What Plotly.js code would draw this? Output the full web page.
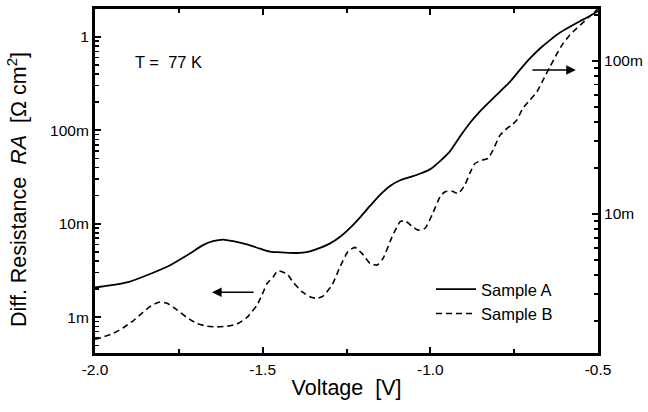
<!DOCTYPE html>
<html>
<head>
<meta charset="utf-8">
<script src="https://cdn.plot.ly/plotly-3.0.1.min.js"></script>
<style>html,body{margin:0;padding:0;background:#fff;}#chart{width:648px;height:412px;}</style>
</head>
<body>
<div id="chart"></div>
<script>
// Sample A (solid, left axis)
const voltageA = [-2.0, -1.955, -1.896, -1.836, -1.776, -1.717, -1.678, -1.648, -1.618, -1.588, -1.547, -1.508, -1.478, -1.448, -1.418, -1.389, -1.359, -1.329, -1.299, -1.269, -1.240, -1.210, -1.180, -1.150, -1.120, -1.090, -1.061, -1.031, -1.001, -0.971, -0.941, -0.911, -0.882, -0.852, -0.822, -0.792, -0.762, -0.733, -0.703, -0.673, -0.643, -0.613, -0.584, -0.554, -0.524, -0.5];
const resA = [0.00208, 0.00219, 0.00241, 0.00290, 0.00360, 0.00480, 0.00590, 0.00650, 0.00676, 0.00650, 0.00600, 0.00542, 0.00503, 0.00495, 0.00488, 0.00488, 0.00507, 0.00551, 0.00617, 0.00727, 0.00900, 0.01166, 0.0155, 0.0204, 0.0254, 0.0292, 0.0316, 0.0343, 0.0382, 0.0468, 0.0598, 0.0863, 0.1197, 0.159, 0.204, 0.260, 0.332, 0.443, 0.588, 0.751, 0.923, 1.11, 1.28, 1.47, 1.67, 1.89];
// Sample B (dashed, right axis)
const voltageB = [-2.0, -1.976, -1.946, -1.917, -1.887, -1.857, -1.827, -1.806, -1.785, -1.755, -1.726, -1.696, -1.666, -1.636, -1.606, -1.577, -1.547, -1.517, -1.502, -1.487, -1.469, -1.455, -1.427, -1.410, -1.383, -1.359, -1.338, -1.320, -1.293, -1.269, -1.246, -1.225, -1.204, -1.180, -1.159, -1.141, -1.114, -1.090, -1.076, -1.055, -1.037, -1.016, -0.995, -0.971, -0.956, -0.935, -0.917, -0.897, -0.882, -0.867, -0.846, -0.828, -0.813, -0.792, -0.771, -0.757, -0.742, -0.724, -0.703, -0.682, -0.664, -0.643, -0.622, -0.604, -0.584, -0.563, -0.545, -0.524, -0.5];
const resB = [0.00152, 0.00157, 0.00166, 0.00180, 0.00200, 0.00228, 0.00256, 0.00266, 0.00261, 0.00236, 0.00211, 0.00193, 0.00185, 0.00183, 0.00185, 0.00191, 0.00211, 0.00254, 0.00296, 0.00352, 0.00387, 0.00426, 0.00405, 0.00361, 0.00311, 0.00288, 0.00281, 0.00291, 0.00344, 0.00453, 0.00568, 0.00606, 0.00553, 0.00476, 0.00464, 0.00513, 0.00711, 0.00891, 0.00904, 0.00835, 0.00786, 0.00806, 0.00985, 0.01297, 0.0140, 0.0141, 0.0136, 0.0155, 0.0185, 0.0214, 0.0225, 0.0231, 0.0262, 0.0328, 0.0363, 0.0382, 0.0412, 0.0491, 0.0556, 0.0630, 0.0751, 0.0918, 0.1122, 0.1305, 0.148, 0.164, 0.178, 0.197, 0.219];

const xTicks = [-2.0, -1.5, -1.0, -0.5];
const xTickText = ['-2.0', '-1.5', '-1.0', '-0.5'];
const xMinor = [-1.75, -1.25, -0.75];
const yLeftTicks = [0.001, 0.01, 0.1, 1];
const yLeftText = ['1m', '10m', '100m', '1'];
const yRightTicks = [0.01, 0.1];
const yRightText = ['10m', '100m'];

function minorLog(lo, hi) {
  const out = [];
  for (let d = lo; d <= hi; d++) for (let m = 2; m <= 9; m++) out.push(m * Math.pow(10, d));
  return out;
}

const font = "Arial, 'Liberation Sans', Helvetica, sans-serif";

const traces = [
  {x: voltageA, y: resA, name: 'Sample A', type: 'scatter', mode: 'lines',
   line: {color: '#000', width: 1.8, shape: 'spline', smoothing: 0.6}, yaxis: 'y'},
  {x: voltageB, y: resB, name: 'Sample B', type: 'scatter', mode: 'lines',
   line: {color: '#000', width: 1.6, dash: '6px,4px', shape: 'spline', smoothing: 0.5}, yaxis: 'y2'}
];

const layout = {
  width: 648, height: 412,
  margin: {l: 95, r: 50, t: 9, b: 59},
  paper_bgcolor: '#fff', plot_bgcolor: '#fff',
  font: {family: font, size: 15.5, color: '#000'},
  showlegend: true,
  legend: {x: 0.668, y: 0.15, xanchor: 'left', yanchor: 'middle', bgcolor: 'rgba(0,0,0,0)',
           font: {size: 16.5}, itemwidth: 40, tracegroupgap: 0},
  xaxis: {
    range: [-2.0, -0.5], showgrid: false, zeroline: false,
    showline: true, linewidth: 3, linecolor: '#000', mirror: 'ticks',
    ticks: 'inside', ticklen: 6, tickwidth: 2, tickcolor: '#000',
    tickmode: 'array', tickvals: xTicks, ticktext: xTickText,
    minor: {tickmode: 'array', tickvals: xMinor, ticks: 'inside', ticklen: 4, tickwidth: 2, tickcolor: '#000'},
    tickfont: {size: 15.5},
    title: {text: 'Voltage  [V]', font: {size: 21.5}, standoff: 4}
  },
  yaxis: {
    type: 'log', range: [-3.383, 0.298], showgrid: false, zeroline: false,
    showline: true, linewidth: 3, linecolor: '#000',
    ticks: 'inside', ticklen: 6, tickwidth: 2, tickcolor: '#000',
    tickmode: 'array', tickvals: yLeftTicks, ticktext: yLeftText,
    minor: {tickmode: 'array', tickvals: minorLog(-4, 0), ticks: 'inside', ticklen: 4, tickwidth: 1.5, tickcolor: '#000'},
    tickfont: {size: 15.5}
  },
  yaxis2: {
    type: 'log', range: [-2.908, -0.660], overlaying: 'y', side: 'right',
    showgrid: false, zeroline: false,
    showline: true, linewidth: 3, linecolor: '#000',
    ticks: 'inside', ticklen: 6, tickwidth: 2, tickcolor: '#000',
    tickmode: 'array', tickvals: yRightTicks, ticktext: yRightText,
    minor: {tickmode: 'array', tickvals: minorLog(-3, -1), ticks: 'inside', ticklen: 4, tickwidth: 1.5, tickcolor: '#000'},
    tickfont: {size: 15.5}
  },
  annotations: [
    {xref: 'paper', yref: 'paper', x: -0.155, y: 0.474, xanchor: 'center', yanchor: 'middle',
     textangle: -90, text: 'Diff. Resistance  <i>RA</i>  [Ω cm<sup>2</sup>]', showarrow: false, font: {size: 21.5}},
    {xref: 'paper', yref: 'paper', x: 0.075, y: 0.846, xanchor: 'left', yanchor: 'middle',
     text: 'T =  77 K', showarrow: false, font: {size: 16.5}},
    {xref: 'x', yref: 'y', x: -1.651, y: Math.log10(0.00185), ax: 43, ay: 0, text: '', showarrow: true,
     arrowhead: 2, arrowsize: 1.2, arrowwidth: 1.6, arrowcolor: '#000'},
    {xref: 'x', yref: 'y2', x: -0.566, y: Math.log10(0.0873), ax: -45, ay: 0, text: '', showarrow: true,
     arrowhead: 2, arrowsize: 1.2, arrowwidth: 1.6, arrowcolor: '#000'}
  ]
};

Plotly.newPlot('chart', traces, layout, {staticPlot: true, displayModeBar: false});
</script>
</body>
</html>
